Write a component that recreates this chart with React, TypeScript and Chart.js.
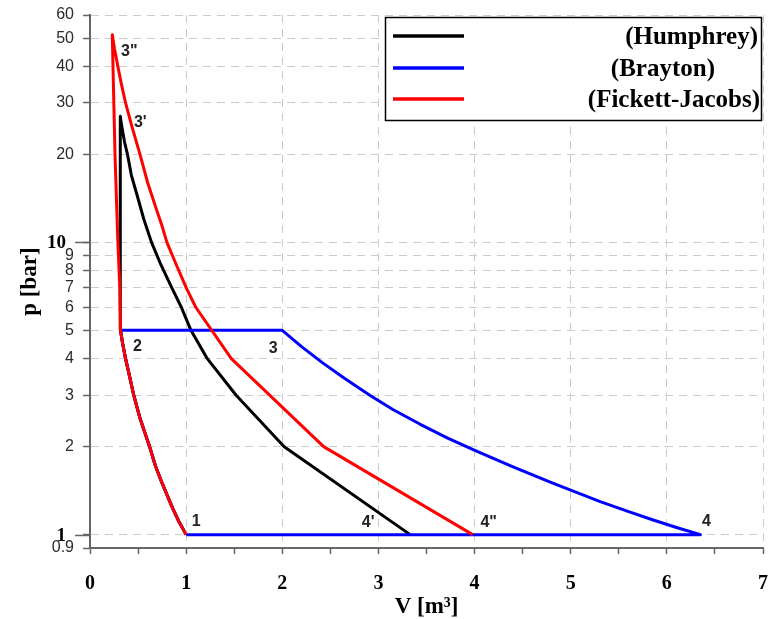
import { useEffect, useRef } from 'react';
import { Chart, registerables } from 'chart.js';

Chart.register(...registerables);

// Isentropic compression 1 → 2, shared by all three cycles
const compressionV = [1.0, 0.93, 0.86, 0.75, 0.68, 0.62, 0.52, 0.455, 0.41, 0.37, 0.34, 0.317];
const compressionP = [1.0, 1.1, 1.23, 1.5, 1.72, 2.0, 2.5, 3.0, 3.5, 4.0, 4.5, 5.0];

// Humphrey: constant-volume heat addition 2 → 3', expansion 3' → 4'
const humphreyV = [0.315, 0.33, 0.36, 0.39, 0.43, 0.49, 0.56, 0.64, 0.73, 0.85, 0.95, 1.05, 1.22, 1.52, 2.02, 3.33];
const humphreyP = [27, 25, 22, 20, 17, 14.5, 12, 10, 8.5, 7, 6, 5, 4, 3, 2, 1];

// Brayton: constant-pressure heat addition 2 → 3, expansion 3 → 4, rejection 4 → 1
const braytonV = [2.0, 2.2, 2.42, 2.65, 2.91, 3.15, 3.43, 3.72, 4.02, 4.4, 4.8, 5.3, 5.58, 5.85, 6.1, 6.35, 1.0];
const braytonP = [5, 4.4, 3.87, 3.42, 3.0, 2.68, 2.39, 2.14, 1.93, 1.705, 1.506, 1.3, 1.205, 1.124, 1.058, 1.0, 1.0];

// Fickett-Jacobs: detonation 2 → 3'', expansion 3'' → 4''
const fjRiseV = [0.31, 0.29, 0.26, 0.24, 0.232];
const fjRiseP = [7, 10, 20, 39, 51.4];
const fjExpV = [0.255, 0.29, 0.325, 0.37, 0.435, 0.52, 0.6, 0.69, 0.745, 0.8, 0.89, 1.0, 1.1, 1.47, 2.43, 3.98];
const fjExpP = [46, 40, 35, 30, 25, 20, 16, 13, 11.5, 10, 8.5, 7, 6, 4, 2, 1];

// State-point labels and the states they mark
const stateNames = ['1', '2', '3', "3'", '3"', "4'", '4"', '4'];
const stateV = [1.0, 0.317, 2.0, 0.315, 0.232, 3.33, 3.98, 6.35];
const stateP = [1, 5, 5, 27, 51.4, 1, 1, 1];

// Pressure axis ticks
const pTicks = [0.9, 1, 2, 3, 4, 5, 6, 7, 8, 9, 10, 20, 30, 40, 50, 60];
const pTicksBold = [1, 10];

const legendNames = ['(Humphrey)', '(Brayton)', '(Fickett-Jacobs)'];
const cycleColors = ['#000000', '#0000ff', '#ff0000'];

const SERIF = "'Liberation Serif', 'Times New Roman', serif";
const SANS = "'Liberation Sans', Arial, sans-serif";

const pts = (vs: number[], ps: number[]) => vs.map((v, i) => ({ x: v, y: ps[i] }));

// keep the plot area fixed: labels may overhang into the layout padding
const noLabelPadding = (s: any) => {
  s.paddingTop = 0;
  s.paddingBottom = 0;
  s.paddingLeft = 0;
  s.paddingRight = 0;
};

const overlayPlugin = {
  id: 'cycleOverlay',
  afterDraw(chart: any) {
    const { ctx } = chart;
    const xs = chart.scales.x;
    const ys = chart.scales.y;

    // long ticks and bold labels at the decades
    ctx.save();
    ctx.strokeStyle = '#666666';
    ctx.lineWidth = 1.5;
    ctx.fillStyle = '#000000';
    ctx.font = `bold 19px ${SERIF}`;
    ctx.textAlign = 'right';
    ctx.textBaseline = 'middle';
    pTicksBold.forEach((v) => {
      const y = Math.round(ys.getPixelForValue(v)) + 0.5;
      ctx.beginPath();
      ctx.moveTo(xs.left - 15, y);
      ctx.lineTo(xs.left, y);
      ctx.stroke();
      ctx.fillText(String(v), xs.left - 24, y + 1);
    });
    ctx.restore();

    // state-point labels
    const offsets = [
      [10, -13], [17, 16], [-9, 18], [20, 6], [17, 17], [-42, -12], [16, -12], [6, -13],
    ];
    ctx.save();
    ctx.fillStyle = '#222222';
    ctx.font = `bold 16px ${SANS}`;
    ctx.textAlign = 'center';
    ctx.textBaseline = 'middle';
    stateNames.forEach((name, i) => {
      const px = xs.getPixelForValue(stateV[i]) + offsets[i][0];
      const py = ys.getPixelForValue(stateP[i]) + offsets[i][1];
      ctx.fillText(name, px, py);
    });
    ctx.restore();

    // legend box
    const bx = 385.5, by = 17.5, bw = 376, bh = 103;
    ctx.save();
    ctx.fillStyle = '#ffffff';
    ctx.fillRect(bx, by, bw, bh);
    ctx.strokeStyle = '#000000';
    ctx.lineWidth = 1.5;
    ctx.strokeRect(bx, by, bw, bh);
    const rowY = [36, 68, 99];
    const textRight = [758, 715, 760];
    ctx.font = `bold 25px ${SERIF}`;
    ctx.textAlign = 'right';
    ctx.textBaseline = 'middle';
    legendNames.forEach((name, i) => {
      ctx.strokeStyle = cycleColors[i];
      ctx.lineWidth = 3.5;
      ctx.beginPath();
      ctx.moveTo(393, rowY[i]);
      ctx.lineTo(464, rowY[i]);
      ctx.stroke();
      ctx.fillStyle = '#000000';
      ctx.fillText(name, textRight[i], rowY[i] + 2);
    });
    ctx.restore();
  },
};

export default function App() {
  const ref = useRef<HTMLCanvasElement>(null);

  useEffect(() => {
    const canvas = ref.current;
    if (!canvas) return;
    const compression = pts(compressionV, compressionP);
    const humphrey = [...compression, ...pts(humphreyV, humphreyP)];
    const brayton = [...compression, ...pts(braytonV, braytonP)];
    const fickett = [...compression, ...pts(fjRiseV, fjRiseP), ...pts(fjExpV, fjExpP)];

    const lineStyle = {
      showLine: true,
      pointRadius: 0,
      borderWidth: 3,
      borderJoinStyle: 'round',
      fill: false,
      tension: 0,
    };

    const chart = new Chart(canvas, {
      type: 'scatter',
      data: {
        datasets: [
          { ...lineStyle, label: 'Fickett-Jacobs', data: fickett, borderColor: cycleColors[2], order: 0 },
          { ...lineStyle, label: 'Brayton', data: brayton, borderColor: cycleColors[1], order: 1 },
          { ...lineStyle, label: 'Humphrey', data: humphrey, borderColor: cycleColors[0], order: 2 },
        ],
      },
      options: {
        animation: false,
        responsive: false,
        devicePixelRatio: 1,
        layout: { padding: { left: 0, top: 15, right: 19, bottom: 0 } },
        plugins: {
          legend: { display: false },
          tooltip: { enabled: false },
        },
        scales: {
          x: {
            type: 'linear',
            min: 0,
            max: 7,
            afterFit: (s: any) => {
              s.height = 71;
              noLabelPadding(s);
            },
            ticks: {
              stepSize: 0.5,
              autoSkip: false,
              maxRotation: 0,
              padding: 18,
              color: '#000000',
              font: { family: SERIF, size: 20, weight: 'bold' },
              callback: (v: any) => (Number.isInteger(v) ? String(v) : ''),
            },
            grid: {
              color: (c: any) =>
                c.tick && !Number.isInteger(c.tick.value) ? 'rgba(0,0,0,0)' : '#cccccc',
              lineWidth: 1,
              tickColor: '#666666',
              tickWidth: 1.5,
              tickLength: 6,
            },
            border: { display: true, color: '#666666', width: 2, dash: [8, 6] },
            title: {
              display: true,
              text: 'V [m³]',
              color: '#000000',
              font: { family: SERIF, size: 23, weight: 'bold', lineHeight: 1.0 },
              padding: { top: 0, bottom: 0 },
            },
          },
          y: {
            type: 'logarithmic',
            min: 0.9,
            max: 60,
            afterBuildTicks: (s: any) => {
              s.ticks = pTicks.map((v) => ({ value: v }));
            },
            afterFit: (s: any) => {
              s.width = 90;
              noLabelPadding(s);
            },
            ticks: {
              autoSkip: false,
              padding: 9,
              color: '#2b2b2b',
              font: { family: SANS, size: 16 },
              callback: (v: any) => (pTicksBold.includes(Number(v)) ? '' : String(v)),
            },
            grid: {
              color: '#cccccc',
              lineWidth: 1,
              tickColor: '#666666',
              tickWidth: 1.5,
              tickLength: 7,
            },
            border: { display: true, color: '#666666', width: 2, dash: [8, 6] },
            title: {
              display: true,
              text: 'p [bar]',
              color: '#000000',
              font: { family: SERIF, size: 23, weight: 'bold' },
              padding: { top: 16, bottom: 0 },
            },
          },
        },
      } as any,
      plugins: [overlayPlugin],
    });

    return () => chart.destroy();
  }, []);

  return (
    <div style={{ position: 'absolute', left: 0, top: 0, width: 782, height: 619, background: '#ffffff' }}>
      <canvas ref={ref} width={782} height={619} style={{ display: 'block' }} />
    </div>
  );
}
